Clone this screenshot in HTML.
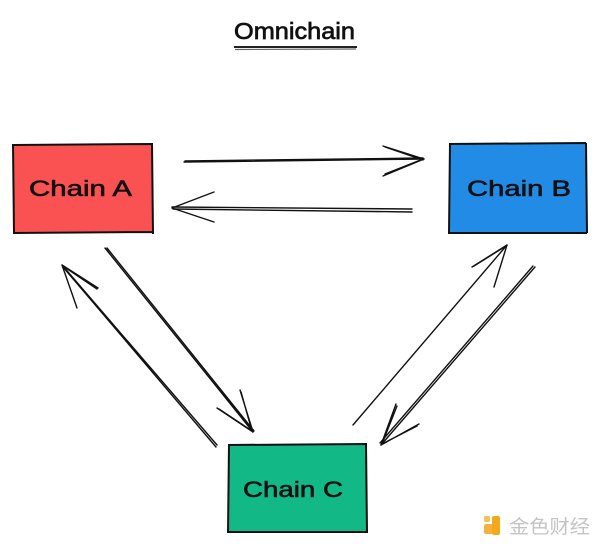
<!DOCTYPE html>
<html><head><meta charset="utf-8"><style>
html,body{margin:0;padding:0;background:#fff;}
svg{display:block;}
text{font-family:"Liberation Sans","DejaVu Sans",sans-serif;}
</style></head><body>
<svg width="600" height="546" viewBox="0 0 600 546" xmlns="http://www.w3.org/2000/svg">
<rect width="600" height="546" fill="#fff"/>
<!-- Title -->
<text x="234" y="39" font-size="23" textLength="121" lengthAdjust="spacingAndGlyphs" fill="#111" stroke="#111" stroke-width="0.7">Omnichain</text>
<path d="M234 47 L357 47" stroke="#222" stroke-width="2"/>
<path d="M235 49.5 L356 49" stroke="#666" stroke-width="1.2"/>

<!-- Box A -->
<rect x="14" y="145" width="138" height="88" fill="#fa5252"/>
<path d="M13 145 L153 144 M152 144 L153 234 M153 232 L13 233 M14 233 L13 144" stroke="#111" stroke-width="2" fill="none"/>
<text x="29" y="196" font-size="22" textLength="103" lengthAdjust="spacingAndGlyphs" fill="#111" stroke="#111" stroke-width="0.6">Chain A</text>

<!-- Box B -->
<rect x="450" y="144" width="136" height="89" fill="#228be6"/>
<path d="M449 144 L586 143 M586 143 L587 233 M587 233 L449 233 M449 234 L450 143" stroke="#111" stroke-width="2" fill="none"/>
<text x="467" y="196" font-size="22" textLength="104" lengthAdjust="spacingAndGlyphs" fill="#111" stroke="#111" stroke-width="0.6">Chain B</text>

<!-- Box C -->
<rect x="229" y="445" width="138" height="87" fill="#12b886"/>
<path d="M228 445 L367 444 M366 444 L367 532 M368 532 L228 532 M228 533 L229 445" stroke="#111" stroke-width="2" fill="none"/>
<text x="243" y="497" font-size="22" textLength="100" lengthAdjust="spacingAndGlyphs" fill="#111" stroke="#111" stroke-width="0.6">Chain C</text>

<g stroke="#111" stroke-width="1.4" fill="none" stroke-linecap="round">
<!-- A -> B -->
<path d="M184 162 L424 159 M185 161 L423 158"/>
<path d="M424 159 L383 146 M424 159 L383 176 M423 160 L385 147 M423 159 L385 174"/>
<!-- B -> A -->
<path d="M412 209 L172 207 M412 212 L173 209"/>
<path d="M172 208 L214 192 M172 208 L214 222"/>
<!-- A -> C -->
<path d="M105 248 L253 432 M107 248 L254 431"/>
<path d="M253 432 L240 390 M253 432 L217 408 M252 431 L241 392 M252 431 L219 409"/>
<!-- C -> A -->
<path d="M217 445 L62 265 M216 447 L63 267"/>
<path d="M62 265 L98 288 M62 265 L77 308 M63 266 L97 289"/>
<!-- C -> B -->
<path d="M353 425 L507 245"/>
<path d="M507 245 L472 267 M507 245 L494 287 M506 246 L474 266"/>
<!-- B -> C -->
<path d="M535 267 L381 445 M533 266 L380 443"/>
<path d="M381 445 L396 404 M381 445 L419 424 M382 444 L397 406 M382 444 L417 426"/>
</g>

<!-- Watermark -->
<rect x="484" y="524" width="9" height="10" rx="2" fill="#f3b23a"/>
<rect x="492" y="516" width="8" height="19" rx="2" fill="#f3a91c"/>
<rect x="484" y="516" width="6" height="6" rx="1.5" fill="#f5c15a"/>
<text x="509" y="533" font-size="19" fill="#c4c4c4" textLength="81" lengthAdjust="spacingAndGlyphs" style="font-family:'Noto Sans CJK SC','WenQuanYi Zen Hei',sans-serif">金色财经</text>
</svg>
</body></html>
